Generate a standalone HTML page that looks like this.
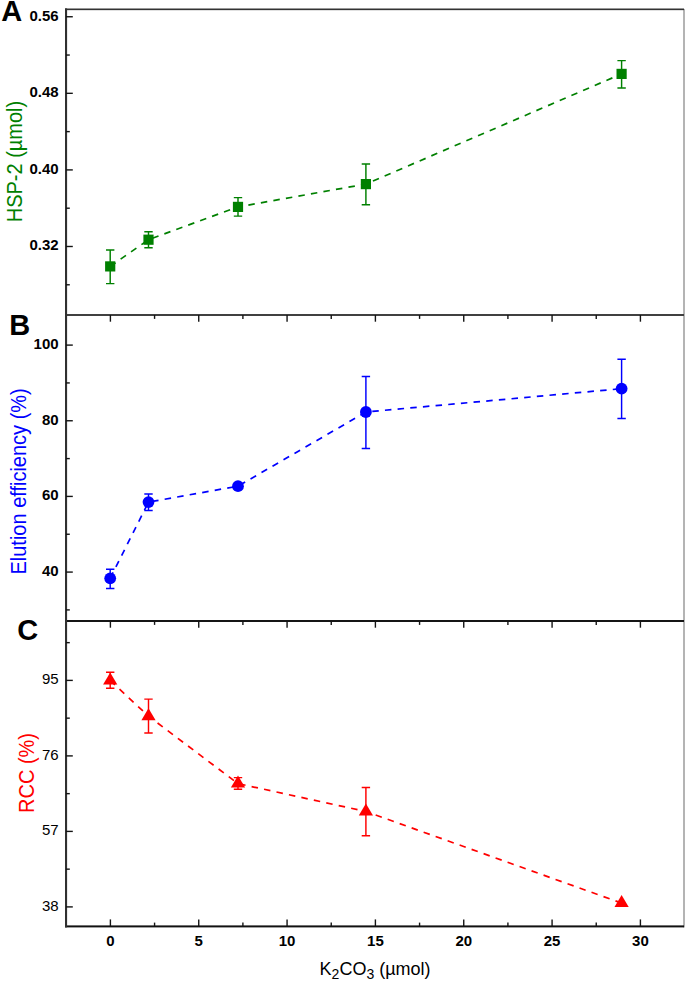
<!DOCTYPE html>
<html><head><meta charset="utf-8"><style>html,body{margin:0;padding:0;background:#fff;}svg{display:block;}</style></head>
<body>
<svg width="685" height="985" viewBox="0 0 685 985">
<rect width="685" height="985" fill="#fff"/>
<rect x="683" y="9" width="2" height="918.4" fill="#b4b4b4"/>
<rect x="65" y="8.5" width="619" height="1.65" fill="#333"/>
<rect x="65" y="314.0" width="619" height="2.0" fill="#404040"/>
<rect x="65" y="620.0" width="619" height="2.0" fill="#151515"/>
<rect x="65" y="925.4" width="619" height="2.0" fill="#111"/>
<rect x="65" y="8.4" width="2.1" height="919.0" fill="#303030"/>
<g stroke="#141414" stroke-width="1.4" fill="none">
<line x1="110.40" y1="315.0" x2="110.40" y2="321.7"/>
<line x1="110.40" y1="621.0" x2="110.40" y2="627.7"/>
<line x1="110.40" y1="926" x2="110.40" y2="919.40"/>
<line x1="154.57" y1="315.0" x2="154.57" y2="318.9"/>
<line x1="154.57" y1="621.0" x2="154.57" y2="624.9"/>
<line x1="154.57" y1="926" x2="154.57" y2="922.60"/>
<line x1="198.74" y1="315.0" x2="198.74" y2="321.7"/>
<line x1="198.74" y1="621.0" x2="198.74" y2="627.7"/>
<line x1="198.74" y1="926" x2="198.74" y2="919.40"/>
<line x1="242.90" y1="315.0" x2="242.90" y2="318.9"/>
<line x1="242.90" y1="621.0" x2="242.90" y2="624.9"/>
<line x1="242.90" y1="926" x2="242.90" y2="922.60"/>
<line x1="287.07" y1="315.0" x2="287.07" y2="321.7"/>
<line x1="287.07" y1="621.0" x2="287.07" y2="627.7"/>
<line x1="287.07" y1="926" x2="287.07" y2="919.40"/>
<line x1="331.24" y1="315.0" x2="331.24" y2="318.9"/>
<line x1="331.24" y1="621.0" x2="331.24" y2="624.9"/>
<line x1="331.24" y1="926" x2="331.24" y2="922.60"/>
<line x1="375.40" y1="315.0" x2="375.40" y2="321.7"/>
<line x1="375.40" y1="621.0" x2="375.40" y2="627.7"/>
<line x1="375.40" y1="926" x2="375.40" y2="919.40"/>
<line x1="419.57" y1="315.0" x2="419.57" y2="318.9"/>
<line x1="419.57" y1="621.0" x2="419.57" y2="624.9"/>
<line x1="419.57" y1="926" x2="419.57" y2="922.60"/>
<line x1="463.74" y1="315.0" x2="463.74" y2="321.7"/>
<line x1="463.74" y1="621.0" x2="463.74" y2="627.7"/>
<line x1="463.74" y1="926" x2="463.74" y2="919.40"/>
<line x1="507.91" y1="315.0" x2="507.91" y2="318.9"/>
<line x1="507.91" y1="621.0" x2="507.91" y2="624.9"/>
<line x1="507.91" y1="926" x2="507.91" y2="922.60"/>
<line x1="552.08" y1="315.0" x2="552.08" y2="321.7"/>
<line x1="552.08" y1="621.0" x2="552.08" y2="627.7"/>
<line x1="552.08" y1="926" x2="552.08" y2="919.40"/>
<line x1="596.24" y1="315.0" x2="596.24" y2="318.9"/>
<line x1="596.24" y1="621.0" x2="596.24" y2="624.9"/>
<line x1="596.24" y1="926" x2="596.24" y2="922.60"/>
<line x1="640.41" y1="315.0" x2="640.41" y2="321.7"/>
<line x1="640.41" y1="621.0" x2="640.41" y2="627.7"/>
<line x1="640.41" y1="926" x2="640.41" y2="919.40"/>
<line x1="66" y1="16.75" x2="72.8" y2="16.75"/>
<line x1="66" y1="55.04" x2="69.8" y2="55.04"/>
<line x1="66" y1="93.33" x2="72.8" y2="93.33"/>
<line x1="66" y1="131.62" x2="69.8" y2="131.62"/>
<line x1="66" y1="169.91" x2="72.8" y2="169.91"/>
<line x1="66" y1="208.20" x2="69.8" y2="208.20"/>
<line x1="66" y1="246.49" x2="72.8" y2="246.49"/>
<line x1="66" y1="284.78" x2="69.8" y2="284.78"/>
<line x1="66" y1="345.10" x2="72.8" y2="345.10"/>
<line x1="66" y1="382.93" x2="69.8" y2="382.93"/>
<line x1="66" y1="420.76" x2="72.8" y2="420.76"/>
<line x1="66" y1="458.59" x2="69.8" y2="458.59"/>
<line x1="66" y1="496.42" x2="72.8" y2="496.42"/>
<line x1="66" y1="534.25" x2="69.8" y2="534.25"/>
<line x1="66" y1="572.08" x2="72.8" y2="572.08"/>
<line x1="66" y1="609.91" x2="69.8" y2="609.91"/>
<line x1="66" y1="642.65" x2="69.8" y2="642.65"/>
<line x1="66" y1="680.40" x2="72.8" y2="680.40"/>
<line x1="66" y1="718.15" x2="69.8" y2="718.15"/>
<line x1="66" y1="755.90" x2="72.8" y2="755.90"/>
<line x1="66" y1="793.65" x2="69.8" y2="793.65"/>
<line x1="66" y1="831.40" x2="72.8" y2="831.40"/>
<line x1="66" y1="869.15" x2="69.8" y2="869.15"/>
<line x1="66" y1="906.90" x2="72.8" y2="906.90"/>
</g>
<text transform="translate(58.6,20.75) scale(1,1.0)" text-anchor="end" font-family="Liberation Sans, sans-serif" font-size="15" font-weight="bold">0.56</text>
<text transform="translate(58.6,97.33) scale(1,1.0)" text-anchor="end" font-family="Liberation Sans, sans-serif" font-size="15" font-weight="bold">0.48</text>
<text transform="translate(58.6,173.91) scale(1,1.0)" text-anchor="end" font-family="Liberation Sans, sans-serif" font-size="15" font-weight="bold">0.40</text>
<text transform="translate(58.6,250.49) scale(1,1.0)" text-anchor="end" font-family="Liberation Sans, sans-serif" font-size="15" font-weight="bold">0.32</text>
<text transform="translate(58.6,349.10) scale(1,1.0)" text-anchor="end" font-family="Liberation Sans, sans-serif" font-size="15" font-weight="bold">100</text>
<text transform="translate(58.6,424.76) scale(1,1.0)" text-anchor="end" font-family="Liberation Sans, sans-serif" font-size="15" font-weight="bold">80</text>
<text transform="translate(58.6,500.42) scale(1,1.0)" text-anchor="end" font-family="Liberation Sans, sans-serif" font-size="15" font-weight="bold">60</text>
<text transform="translate(58.6,576.08) scale(1,1.0)" text-anchor="end" font-family="Liberation Sans, sans-serif" font-size="15" font-weight="bold">40</text>
<text transform="translate(58.6,684.40) scale(1,1.0)" text-anchor="end" font-family="Liberation Sans, sans-serif" font-size="15" >95</text>
<text transform="translate(58.6,759.90) scale(1,1.0)" text-anchor="end" font-family="Liberation Sans, sans-serif" font-size="15" >76</text>
<text transform="translate(58.6,835.40) scale(1,1.0)" text-anchor="end" font-family="Liberation Sans, sans-serif" font-size="15" >57</text>
<text transform="translate(58.6,910.90) scale(1,1.0)" text-anchor="end" font-family="Liberation Sans, sans-serif" font-size="15" >38</text>
<text transform="translate(110.40,945.5) scale(1,1.0)" text-anchor="middle" font-family="Liberation Sans, sans-serif" font-size="15" font-weight="bold">0</text>
<text transform="translate(198.74,945.5) scale(1,1.0)" text-anchor="middle" font-family="Liberation Sans, sans-serif" font-size="15" font-weight="bold">5</text>
<text transform="translate(287.07,945.5) scale(1,1.0)" text-anchor="middle" font-family="Liberation Sans, sans-serif" font-size="15" font-weight="bold">10</text>
<text transform="translate(375.40,945.5) scale(1,1.0)" text-anchor="middle" font-family="Liberation Sans, sans-serif" font-size="15" font-weight="bold">15</text>
<text transform="translate(463.74,945.5) scale(1,1.0)" text-anchor="middle" font-family="Liberation Sans, sans-serif" font-size="15" font-weight="bold">20</text>
<text transform="translate(552.08,945.5) scale(1,1.0)" text-anchor="middle" font-family="Liberation Sans, sans-serif" font-size="15" font-weight="bold">25</text>
<text transform="translate(640.41,945.5) scale(1,1.0)" text-anchor="middle" font-family="Liberation Sans, sans-serif" font-size="15" font-weight="bold">30</text>
<text x="1.2" y="21" font-family="Liberation Sans, sans-serif" font-size="29" font-weight="bold">A</text>
<text x="9.2" y="335.4" font-family="Liberation Sans, sans-serif" font-size="29" font-weight="bold">B</text>
<text x="17.3" y="640.3" font-family="Liberation Sans, sans-serif" font-size="29" font-weight="bold">C</text>
<text transform="translate(22.1,161.5) rotate(-90) scale(1,1.06)" text-anchor="middle" font-family="Liberation Sans, sans-serif" font-size="20" fill="#008000">HSP-2 (µmol)</text>
<text transform="translate(25.8,481.4) rotate(-90) scale(1,1.06)" text-anchor="middle" font-family="Liberation Sans, sans-serif" font-size="20" fill="#0000ff">Elution efficiency (%)</text>
<text transform="translate(34.2,773.0) rotate(-90) scale(1,1.06)" text-anchor="middle" font-family="Liberation Sans, sans-serif" font-size="20" fill="#ff0000">RCC (%)</text>
<text x="319.6" y="974.5" font-family="Liberation Sans, sans-serif" font-size="18">K<tspan font-size="14" dy="4.5">2</tspan><tspan dy="-4.5">CO</tspan><tspan font-size="14" dy="4.5">3</tspan><tspan dy="-4.5"> (µmol)</tspan></text>
<polyline points="110.2,266.4 148.5,239.7 238.0,206.9 365.9,184.1 621.6,73.9" fill="none" stroke="#008000" stroke-width="1.7" stroke-dasharray="6.5,6.21"/>
<g stroke="#008000" stroke-width="1.45" fill="none">
<path d="M110.2,250.0V283.6M106.0,250.0H114.4M106.0,283.6H114.4"/>
<path d="M148.5,231.7V247.7M144.3,231.7H152.7M144.3,247.7H152.7"/>
<path d="M238.0,197.6V216.1M233.8,197.6H242.2M233.8,216.1H242.2"/>
<path d="M365.9,163.9V204.8M361.7,163.9H370.09999999999997M361.7,204.8H370.09999999999997"/>
<path d="M621.6,60.6V88.0M617.4,60.6H625.8000000000001M617.4,88.0H625.8000000000001"/>
</g>
<g fill="#008000">
<rect x="105.10" y="261.30" width="10.2" height="10.2"/>
<rect x="143.40" y="234.60" width="10.2" height="10.2"/>
<rect x="232.90" y="201.80" width="10.2" height="10.2"/>
<rect x="360.80" y="179.00" width="10.2" height="10.2"/>
<rect x="616.50" y="68.80" width="10.2" height="10.2"/>
</g>
<polyline points="110.2,578.3 148.5,502.1 238.0,486.2 365.9,412.0 621.6,388.7" fill="none" stroke="#0000ff" stroke-width="1.7" stroke-dasharray="6.5,6.21"/>
<g stroke="#0000ff" stroke-width="1.45" fill="none">
<path d="M110.2,569.3V588.4M106.0,569.3H114.4M106.0,588.4H114.4"/>
<path d="M148.5,494.0V510.4M144.3,494.0H152.7M144.3,510.4H152.7"/>
<path d="M365.9,376.4V448.5M361.7,376.4H370.09999999999997M361.7,448.5H370.09999999999997"/>
<path d="M621.6,359.3V418.5M617.4,359.3H625.8000000000001M617.4,418.5H625.8000000000001"/>
</g>
<g fill="#0000ff">
<circle cx="110.2" cy="578.3" r="5.9"/>
<circle cx="148.5" cy="502.1" r="5.9"/>
<circle cx="238.0" cy="486.2" r="5.9"/>
<circle cx="365.9" cy="412.0" r="5.9"/>
<circle cx="621.6" cy="388.7" r="5.9"/>
</g>
<polyline points="110.2,680.5 148.5,716.2 238.0,783.6 365.9,811.5 621.6,903.1" fill="none" stroke="#ff0000" stroke-width="1.7" stroke-dasharray="6.5,6.237"/>
<g stroke="#ff0000" stroke-width="1.45" fill="none">
<path d="M110.2,672.3V688.3M106.0,672.3H114.4M106.0,688.3H114.4"/>
<path d="M148.5,699.1V733.0M144.3,699.1H152.7M144.3,733.0H152.7"/>
<path d="M238.0,777.6V789.3M233.8,777.6H242.2M233.8,789.3H242.2"/>
<path d="M365.9,787.4V835.7M361.7,787.4H370.09999999999997M361.7,835.7H370.09999999999997"/>
</g>
<g fill="#ff0000">
<path d="M110.2,672.50L117.30,684.50L103.10,684.50Z"/>
<path d="M148.5,708.20L155.60,720.20L141.40,720.20Z"/>
<path d="M238.0,775.60L245.10,787.60L230.90,787.60Z"/>
<path d="M365.9,803.50L373.00,815.50L358.80,815.50Z"/>
<path d="M621.6,895.10L628.70,907.10L614.50,907.10Z"/>
</g>
</svg>
</body></html>
